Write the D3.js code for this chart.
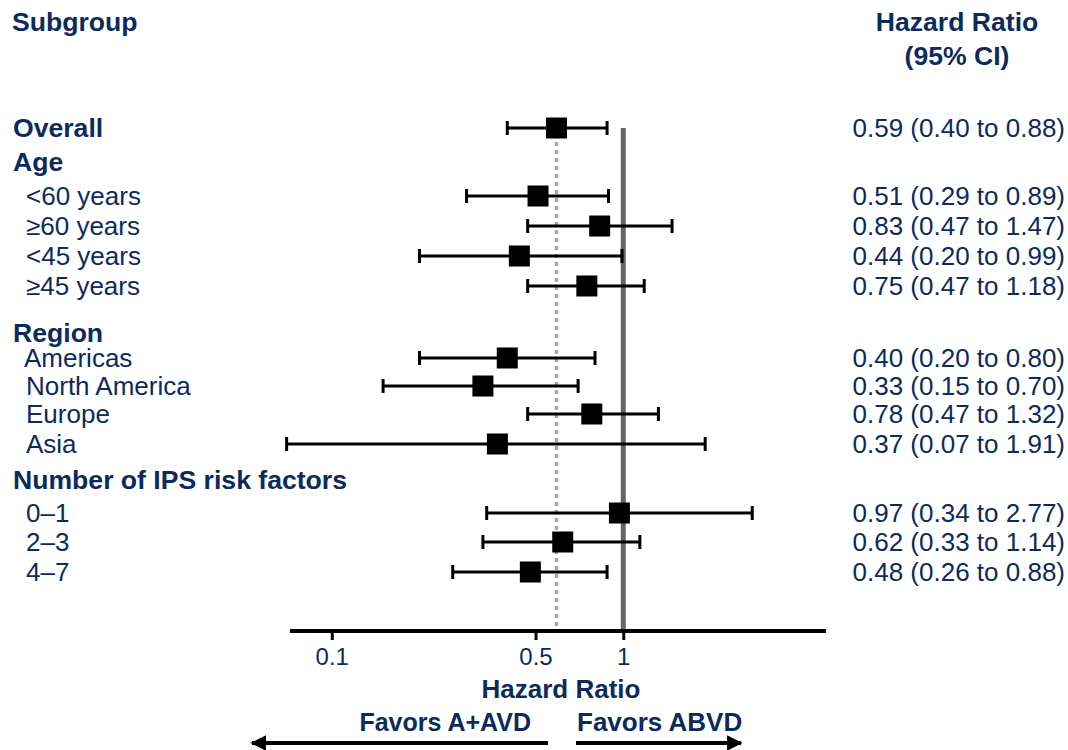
<!DOCTYPE html>
<html>
<head>
<meta charset="utf-8">
<script src="https://cdn.jsdelivr.net/npm/d3@7"></script>
<style>
  body { margin: 0; background: #fff; }
  svg { display: block; font-family: "Liberation Sans", Arial, sans-serif; }
</style>
</head>
<body>
<div id="chart"></div>
<script>
// Forest plot data
const labels = ['Overall', 'Age', '<60 years', '\u226560 years', '<45 years', '\u226545 years',
  'Region', 'Americas', 'North America', 'Europe', 'Asia',
  'Number of IPS risk factors', '0\u20131', '2\u20133', '4\u20137'];
const isHeader = [true, true, false, false, false, false, true, false, false, false, false, true, false, false, false];
const hr = [0.59, null, 0.51, 0.83, 0.44, 0.75, null, 0.40, 0.33, 0.78, 0.37, null, 0.97, 0.62, 0.48];
const lo = [0.40, null, 0.29, 0.47, 0.20, 0.47, null, 0.20, 0.15, 0.47, 0.07, null, 0.34, 0.33, 0.26];
const hi = [0.88, null, 0.89, 1.47, 0.99, 1.18, null, 0.80, 0.70, 1.32, 1.91, null, 2.77, 1.14, 0.88];
const tickValues = [0.1, 0.5, 1];
const overallHR = 0.59;

// layout: vertical centre of each row
const rowY = [128, 162, 196, 226, 256, 286, 333, 358, 386, 414, 444, 480, 513, 542, 572];
const labelX = [13, 13, 26, 26, 26, 26, 13, 24, 26, 26, 26, 13, 26, 26, 26];

const W = 1068, H = 750;
const navy = '#0c2b5c';
const fs = 26;
const fsBold = 26.6;

const svg = d3.select('#chart').append('svg')
  .attr('width', W).attr('height', H);

const x = d3.scaleLog().domain([0.0719, 4.96]).range([290, 826]);
const axisY = 631;

// headers
svg.append('text').attr('x', 12).attr('y', 31).attr('fill', navy)
  .attr('font-size', fsBold).attr('font-weight', 'bold').text('Subgroup');
svg.append('text').attr('x', 957).attr('y', 31).attr('fill', navy).attr('text-anchor', 'middle')
  .attr('font-size', fsBold).attr('font-weight', 'bold').text('Hazard Ratio');
svg.append('text').attr('x', 957).attr('y', 65).attr('fill', navy).attr('text-anchor', 'middle')
  .attr('font-size', fsBold).attr('font-weight', 'bold').text('(95% CI)');

// reference lines
svg.append('line')
  .attr('x1', x(overallHR)).attr('x2', x(overallHR))
  .attr('y1', 134).attr('y2', axisY)
  .attr('stroke', '#a8a8a8').attr('stroke-width', 3.5).attr('stroke-dasharray', '4,4');
svg.append('line')
  .attr('x1', x(1)).attr('x2', x(1))
  .attr('y1', 128).attr('y2', axisY)
  .attr('stroke', '#666666').attr('stroke-width', 5);

// axis
const axis = d3.axisBottom(x).tickValues(tickValues).tickFormat(d3.format('')).tickSize(9).tickPadding(8);
const gAxis = svg.append('g').attr('transform', `translate(0,${axisY})`).call(axis);
gAxis.select('.domain').remove();
gAxis.selectAll('.tick line').attr('stroke', '#000').attr('stroke-width', 3);
gAxis.selectAll('.tick text').attr('fill', navy).attr('font-size', 24)
  .attr('font-family', '"Liberation Sans", Arial, sans-serif');
svg.append('line').attr('x1', 290).attr('x2', 826).attr('y1', axisY).attr('y2', axisY)
  .attr('stroke', '#000').attr('stroke-width', 4);

svg.append('text').attr('x', 561).attr('y', 698).attr('fill', navy).attr('text-anchor', 'middle')
  .attr('font-size', 26).attr('font-weight', 'bold').text('Hazard Ratio');
svg.append('text').attr('x', 531).attr('y', 731).attr('fill', navy).attr('text-anchor', 'end')
  .attr('font-size', 25).attr('font-weight', 'bold').text('Favors A+AVD');
svg.append('text').attr('x', 577).attr('y', 731).attr('fill', navy)
  .attr('font-size', 26).attr('font-weight', 'bold').text('Favors ABVD');

// arrows
const defs = svg.append('defs');
defs.append('marker').attr('id', 'arr').attr('viewBox', '0 0 10 10')
  .attr('refX', 9).attr('refY', 5).attr('markerWidth', 4).attr('markerHeight', 4)
  .attr('markerUnits', 'strokeWidth').attr('orient', 'auto')
  .append('path').attr('d', 'M0,0L10,5L0,10Z').attr('fill', '#000');
svg.append('line').attr('x1', 548).attr('x2', 252).attr('y1', 743).attr('y2', 743)
  .attr('stroke', '#000').attr('stroke-width', 4).attr('marker-end', 'url(#arr)');
svg.append('line').attr('x1', 576).attr('x2', 741).attr('y1', 743).attr('y2', 743)
  .attr('stroke', '#000').attr('stroke-width', 4).attr('marker-end', 'url(#arr)');

// rows
const rows = labels.map((l, i) => ({ label: l, header: isHeader[i], hr: hr[i], lo: lo[i], hi: hi[i], y: rowY[i], lx: labelX[i] }));

svg.selectAll('.lab').data(rows).enter().append('text')
  .attr('x', d => d.lx).attr('y', d => d.y + 9)
  .attr('fill', navy).attr('font-size', d => d.header ? fsBold : fs)
  .attr('font-weight', d => d.header ? 'bold' : 'normal')
  .text(d => d.label);

const est = rows.filter(d => d.hr != null);
const fmt = d3.format('.2f');

svg.selectAll('.ci').data(est).enter().append('line')
  .attr('x1', d => x(d.lo)).attr('x2', d => x(d.hi))
  .attr('y1', d => d.y).attr('y2', d => d.y)
  .attr('stroke', '#000').attr('stroke-width', 3);
svg.selectAll('.capl').data(est).enter().append('line')
  .attr('x1', d => x(d.lo)).attr('x2', d => x(d.lo))
  .attr('y1', d => d.y - 7).attr('y2', d => d.y + 7)
  .attr('stroke', '#000').attr('stroke-width', 3);
svg.selectAll('.capr').data(est).enter().append('line')
  .attr('x1', d => x(d.hi)).attr('x2', d => x(d.hi))
  .attr('y1', d => d.y - 7).attr('y2', d => d.y + 7)
  .attr('stroke', '#000').attr('stroke-width', 3);
svg.selectAll('.box').data(est).enter().append('rect')
  .attr('x', d => x(d.hr) - 10.5).attr('y', d => d.y - 10.5)
  .attr('width', 21).attr('height', 21).attr('fill', '#000');

svg.selectAll('.val').data(est).enter().append('text')
  .attr('x', 1065).attr('y', d => d.y + 9).attr('text-anchor', 'end')
  .attr('fill', navy).attr('font-size', fs)
  .text(d => `${fmt(d.hr)} (${fmt(d.lo)} to ${fmt(d.hi)})`);
</script>
</body>
</html>
